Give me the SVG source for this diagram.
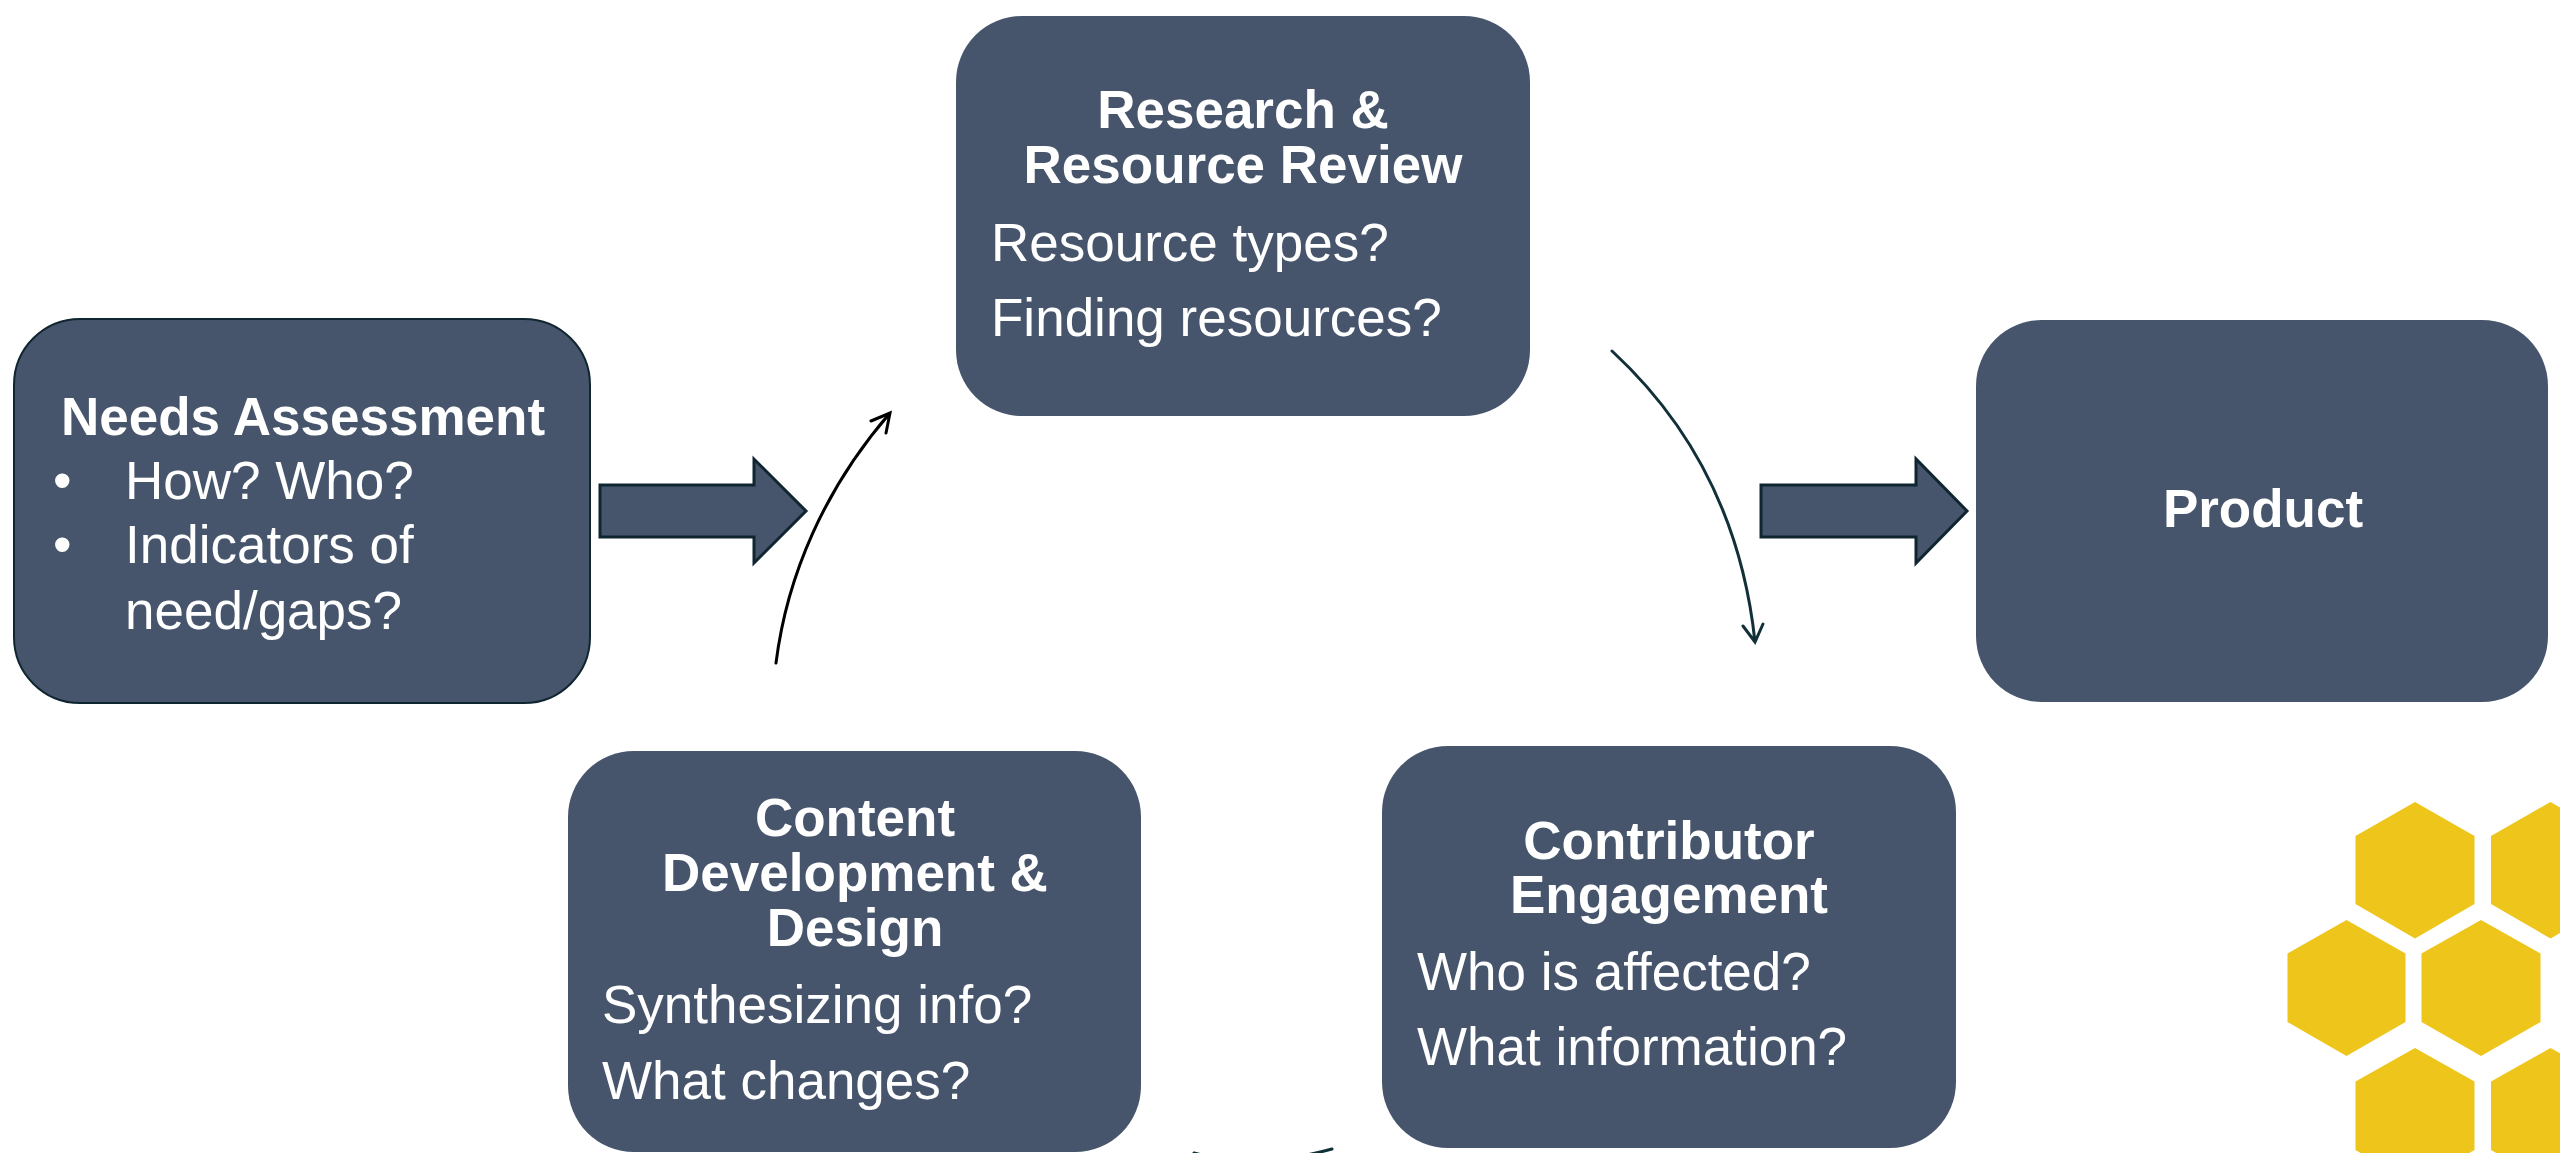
<svg xmlns="http://www.w3.org/2000/svg" width="2560" height="1153" viewBox="0 0 2560 1153">
<style>
.box{fill:#46556c}
.edged{stroke:#0f2630;stroke-width:2}
text{font-family:"Liberation Sans",Arial,sans-serif;font-size:53px;fill:#fff}
.t{font-weight:700;text-anchor:middle}
.block{fill:#46556c;stroke:#0f2630;stroke-width:3}
.curve{fill:none;stroke-width:3;stroke-linecap:round;stroke-linejoin:miter}
.hex{fill:#eec51a}
</style>
<rect width="2560" height="1153" fill="#fff"/>
<g id="connectors">
<path class="block" d="M600 485H754V459L806 511L754 563V537H600Z"/>
<path class="block" d="M1761 485H1916V459L1967 511L1916 563V537H1761Z"/>
<path class="curve" stroke="#000" d="M776 663C787 575 825 488 890 413M871 421L890 413L886 433"/>
<path class="curve" stroke="#123038" d="M1612 351C1692 425 1742 520 1755 642M1743 626L1755 642L1763 624"/>
<path class="curve" stroke="#123038" d="M1332 1149C1285 1162 1240 1165 1194 1153"/>
</g>
<g id="needs-assessment">
<rect class="box edged" x="14" y="319" width="576" height="384" rx="66"/>
<text class="t" x="303" y="435">Needs Assessment</text>
<text x="53" y="499">•</text><text x="125" y="499">How? Who?</text>
<text x="53" y="563">•</text><text x="125" y="563">Indicators of</text>
<text x="125" y="629">need/gaps?</text>
</g>
<g id="research-review">
<rect class="box" x="956" y="16" width="574" height="400" rx="66"/>
<text class="t" x="1243" y="128">Research &amp;</text>
<text class="t" x="1243" y="183">Resource Review</text>
<text x="991" y="261">Resource types?</text>
<text x="991" y="336">Finding resources?</text>
</g>
<g id="product">
<rect class="box" x="1976" y="320" width="572" height="382" rx="66"/>
<text class="t" x="2263" y="527">Product</text>
</g>
<g id="contributor-engagement">
<rect class="box" x="1382" y="746" width="574" height="402" rx="66"/>
<text class="t" x="1669" y="859">Contributor</text>
<text class="t" x="1669" y="913">Engagement</text>
<text x="1417" y="990">Who is affected?</text>
<text x="1417" y="1065">What information?</text>
</g>
<g id="content-development">
<rect class="box" x="568" y="751" width="573" height="401" rx="66"/>
<text class="t" x="855" y="836">Content</text>
<text class="t" x="855" y="891">Development &amp;</text>
<text class="t" x="855" y="946">Design</text>
<text x="602" y="1023">Synthesizing info?</text>
<text x="602" y="1099">What changes?</text>
</g>
<g id="honeycomb">
<path class="hex" d="M2415 802L2474.5 836V904L2415 938.5L2355.5 904V836Z"/>
<path class="hex" d="M2550.5 802L2610 836V904L2550.5 938.5L2491 904V836Z"/>
<path class="hex" d="M2346.5 920L2405.5 953.5V1022L2346.5 1056L2287.5 1022V953.5Z"/>
<path class="hex" d="M2481 920L2540.5 953.5V1022L2481 1056L2421.5 1022V953.5Z"/>
<path class="hex" d="M2415 1048L2474.5 1081.5V1150L2415 1184L2355.5 1150V1081.5Z"/>
<path class="hex" d="M2550.5 1048L2610 1081.5V1150L2550.5 1184L2491 1150V1081.5Z"/>
</g>
</svg>
